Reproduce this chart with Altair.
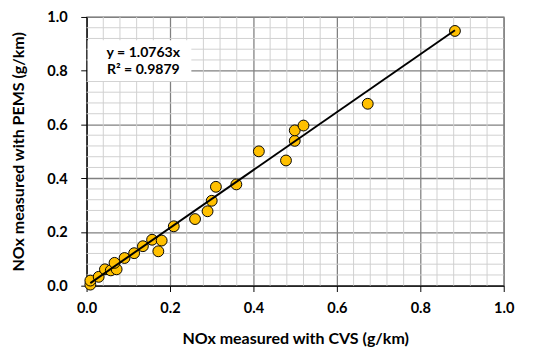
import altair as alt
import pandas as pd

# NOx measured with CVS (g/km)
cvs = [0.009, 0.009, 0.029, 0.044, 0.058, 0.072, 0.067, 0.091, 0.114, 0.135,
       0.157, 0.180, 0.172, 0.209, 0.260, 0.290, 0.300, 0.310, 0.359, 0.413,
       0.478, 0.499, 0.499, 0.520, 0.674, 0.883]
# NOx measured with PEMS (g/km)
pems = [0.004, 0.019, 0.033, 0.061, 0.057, 0.061, 0.085, 0.103, 0.121, 0.147,
        0.171, 0.168, 0.128, 0.221, 0.248, 0.277, 0.316, 0.368, 0.377, 0.500,
        0.466, 0.539, 0.578, 0.596, 0.677, 0.948]
slope = 1.0763
eq_lines = ["y = 1.0763x", "R² = 0.9879"]
major_ticks = [0.0, 0.2, 0.4, 0.6, 0.8, 1.0]
minor_ticks = [0.04, 0.08, 0.12, 0.16, 0.24, 0.28, 0.32, 0.36, 0.44, 0.48,
               0.52, 0.56, 0.64, 0.68, 0.72, 0.76, 0.84, 0.88, 0.92, 0.96]

df = pd.DataFrame({"cvs": cvs, "pems": pems})
trend = pd.DataFrame({"cvs": [min(cvs), max(cvs)]})
trend["pems"] = trend["cvs"] * slope
minor = pd.DataFrame({"v": minor_ticks})

FONT = "Lato"

xscale = alt.Scale(domain=[0, 1], nice=False, zero=False)
yscale = alt.Scale(domain=[0, 1], nice=False, zero=False)

common = dict(
    values=major_ticks,
    format=".1f",
    gridColor="#808080",
    gridWidth=1.3,
    tickSize=6,
    tickColor="#000000",
    domainColor="#000000",
    domainWidth=1.3,
    labelFont=FONT, labelFontSize=15, labelFontWeight="bold", labelColor="#000000",
    titleFont=FONT, titleFontSize=16.5, titleFontWeight="bold", titleColor="#000000",
    titleBaseline="alphabetic",
    labelFlush=False, labelOverlap=False,
)
x_axis = alt.Axis(title="NOx measured with CVS (g/km)", labelPadding=10, titleY=60, **common)
y_axis = alt.Axis(title="NOx measured with PEMS (g/km)", labelPadding=14, titleX=-65, **common)

minor_x = alt.Chart(minor).mark_rule(color="#d0d0d0", strokeWidth=1).encode(
    x=alt.X("v:Q", scale=xscale, axis=x_axis)
)
minor_y = alt.Chart(minor).mark_rule(color="#d0d0d0", strokeWidth=1).encode(
    y=alt.Y("v:Q", scale=yscale, axis=y_axis)
)

points = alt.Chart(df).mark_circle(
    size=125, color="#FFC000", stroke="#000000", strokeWidth=1, opacity=1
).encode(
    x=alt.X("cvs:Q", scale=xscale, axis=x_axis),
    y=alt.Y("pems:Q", scale=yscale, axis=y_axis),
)

line = alt.Chart(trend).mark_line(color="#000000", strokeWidth=2).encode(
    x=alt.X("cvs:Q", scale=xscale),
    y=alt.Y("pems:Q", scale=yscale),
)

box = alt.Chart(pd.DataFrame({"a": [0]})).mark_rect(color="white").encode(
    x=alt.value(1), x2=alt.value(108), y=alt.value(24), y2=alt.value(66)
)

label = alt.Chart(pd.DataFrame({"t": [eq_lines]})).mark_text(
    font=FONT, fontSize=14.5, fontWeight="bold", color="#000000",
    align="center", baseline="alphabetic", lineHeight=17.5
).encode(
    x=alt.value(58.5), y=alt.value(41), text="t"
)

chart = alt.layer(minor_x, minor_y, box, points, line, label).properties(
    width=430, height=277,
    autosize=alt.AutoSizeParams(type="none"),
    padding={"left": 81, "top": 4, "right": 25, "bottom": 60},
    background="white",
).configure_view(stroke="#808080", strokeWidth=1.3)

chart.save("out.html", embed_options={"renderer": "svg", "actions": False})
